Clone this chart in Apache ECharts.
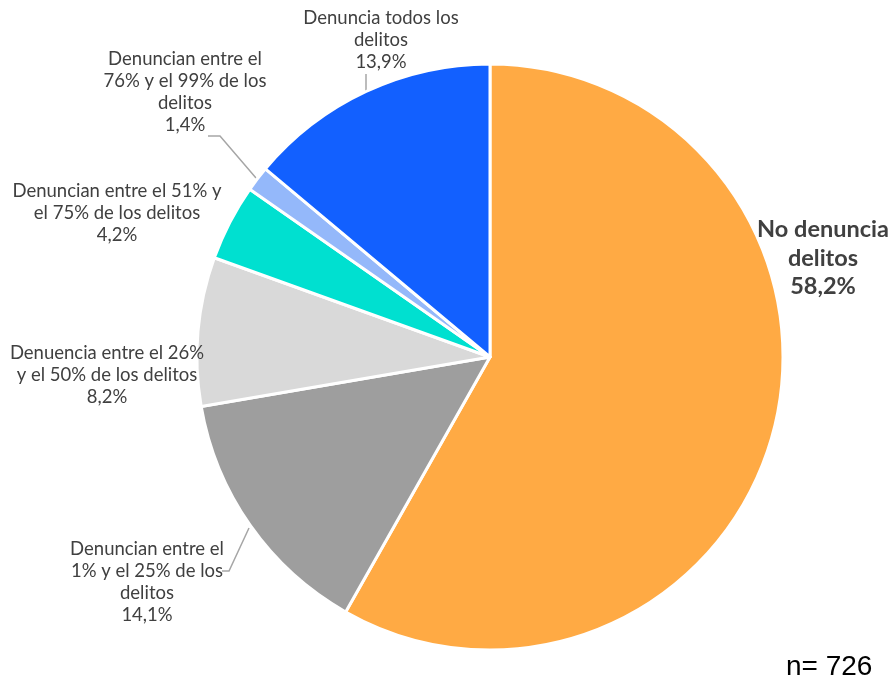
<!DOCTYPE html>
<html>
<head>
<meta charset="utf-8">
<script src="https://cdn.jsdelivr.net/npm/echarts@6/dist/echarts.min.js"></script>
<style>
    html, body { margin: 0; padding: 0; background: #fff; }
    #chart { width: 894px; height: 683px; }
</style>
</head>
<body>
<div id="chart"></div>
<script>
    // categories as shown in the picture (clockwise from the top)
    let categories = [
        "No denuncia\ndelitos",
        "Denuncian entre el\n1% y el 25% de los\ndelitos",
        "Denuencia entre el 26%\ny el 50% de los delitos",
        "Denuncian entre el 51% y\nel 75% de los delitos",
        "Denuncian entre el\n76% y el 99% de los\ndelitos",
        "Denuncia todos los\ndelitos"
    ];
    let values = [58.2, 14.1, 8.2, 4.2, 1.4, 13.9];
    let colors = ["#FFAA44", "#9E9E9E", "#D9D9D9", "#00E0D0", "#94B8FA", "#1260FF"];
    let sampleLabel = "n= 726";

    // label centres and leader lines (layout only)
    let labelPos = [
        { x: 823, y: 258 },
        { x: 147, y: 582 },
        { x: 107, y: 375 },
        { x: 117, y: 213 },
        { x: 185, y: 92 },
        { x: 381, y: 40 }
    ];
    let labelLines = [
        null,
        [[249, 528], [229, 571], [222, 571]],
        null,
        null,
        [[256, 178], [220, 136], [208, 136]],
        [[366, 91], [366, 74], [366, 74]]
    ];

    let data = [];
    for (let i in values) {
        data.push({
            name: categories[i],
            value: values[i],
            itemStyle: { color: colors[i] },
            label: i == 0 ? { fontSize: 23.5, fontWeight: "bold", lineHeight: 28.5 } : {},
            labelLine: { show: labelLines[i] !== null }
        });
    }

    let chart = echarts.init(document.getElementById("chart"));
    chart.setOption({
        animation: false,
        series: [
            {
                type: "pie",
                center: [490, 357],
                radius: 293,
                startAngle: 90,
                clockwise: true,
                data: data,
                itemStyle: {
                    borderColor: "#fff",
                    borderWidth: 3
                },
                label: {
                    show: true,
                    position: "outside",
                    overflow: "none",
                    fontFamily: "Lato",
                    fontSize: 18.5,
                    lineHeight: 22,
                    color: "#404040",
                    align: "center",
                    formatter: function (p) {
                        return p.name + "\n" + p.value.toFixed(1).replace(".", ",") + "%";
                    }
                },
                labelLine: {
                    lineStyle: { color: "#A6A6A6", width: 1.5 }
                },
                labelLayout: function (p) {
                    let pos = labelPos[p.dataIndex];
                    let res = {
                        x: pos.x,
                        y: pos.y,
                        align: "center",
                        verticalAlign: "middle"
                    };
                    if (labelLines[p.dataIndex]) {
                        res.labelLinePoints = labelLines[p.dataIndex];
                    }
                    return res;
                }
            }
        ],
        graphic: [
            {
                type: "text",
                left: 786,
                top: 653,
                style: {
                    text: sampleLabel,
                    fontFamily: "Liberation Sans",
                    fontSize: 28,
                    fill: "#000"
                }
            }
        ]
    });
</script>
</body>
</html>
